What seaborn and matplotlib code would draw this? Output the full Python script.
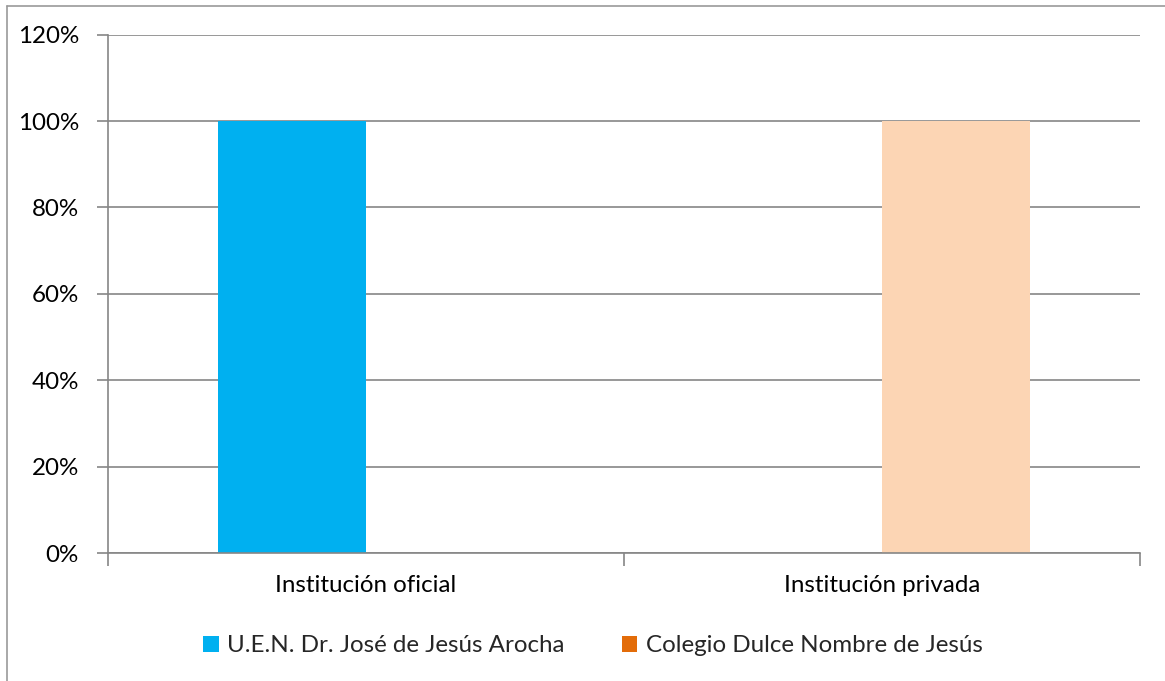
import matplotlib
matplotlib.use("Agg")
import matplotlib.pyplot as plt
import matplotlib.patches as mpatches
from matplotlib.lines import Line2D
from matplotlib.ticker import FixedLocator, FuncFormatter
import seaborn as sns
import pandas as pd

categories = ["Institución oficial", "Institución privada"]
series_names = ["U.E.N. Dr. José de Jesús Arocha", "Colegio Dulce Nombre de Jesús"]
series1_values = [100, 0]
series2_values = [0, 100]
y_ticks = [0, 20, 40, 60, 80, 100, 120]

bar_colors = ["#00B0F0", "#FCD5B4"]
legend_colors = ["#00B0F0", "#E36C09"]

rows = []
for cat, v in zip(categories, series1_values):
    rows.append({"cat": cat, "serie": series_names[0], "val": v})
for cat, v in zip(categories, series2_values):
    rows.append({"cat": cat, "serie": series_names[1], "val": v})
df = pd.DataFrame(rows)

sns.set_theme(style="white")
plt.rcParams["font.family"] = ["Lato", "DejaVu Sans"]

W, H = 1165, 681
FS = 17.4
fig = plt.figure(figsize=(W / 100, H / 100), dpi=100)
ax = fig.add_axes([108 / W, (H - 553) / H, 1032 / W, 518.4 / H])

sns.barplot(data=df, x="cat", y="val", hue="serie", order=categories,
            hue_order=series_names, palette=dict(zip(series_names, bar_colors)),
            width=0.574, dodge=True, saturation=1, ax=ax, legend=False,
            linewidth=0, errorbar=None)

ax.set_xlim(-0.5, 1.5)
ax.set_ylim(0, 120)
ax.set_xlabel("")
ax.set_ylabel("")
ax.set_axisbelow(True)

grid_c = "#868686"
ax.yaxis.set_major_locator(FixedLocator(y_ticks))
ax.yaxis.set_major_formatter(FuncFormatter(lambda v, p: f"{int(v)}%"))
ax.yaxis.grid(True, color=grid_c, linewidth=1.2)
ax.xaxis.grid(False)

for s in ["top", "right"]:
    ax.spines[s].set_visible(False)
for s in ["left", "bottom"]:
    ax.spines[s].set_color(grid_c)
    ax.spines[s].set_linewidth(1.2)

ax.tick_params(axis="y", which="major", length=8, width=1.2, color=grid_c,
               left=True, labelsize=FS, labelcolor="black", pad=13)
ax.tick_params(axis="x", which="major", length=0, labelsize=FS,
               labelcolor="black", pad=16)
ax.set_xticks([-0.5, 0.5, 1.5], minor=True)
ax.tick_params(axis="x", which="minor", length=9, width=1.2, color=grid_c,
               bottom=True)

handles = [mpatches.Patch(facecolor=c, edgecolor="none") for c in legend_colors]
fig.legend(handles, series_names, loc="center", bbox_to_anchor=(593 / W, 1 - 646 / H),
           ncol=2, frameon=False, fontsize=FS, handlelength=0.65, handleheight=0.65,
           handletextpad=0.35, columnspacing=2.35)

fig.add_artist(Line2D([6.5 / W, 1.0], [1 - 5.5 / H, 1 - 5.5 / H],
                      transform=fig.transFigure, color="#999999", linewidth=1.2))
fig.add_artist(Line2D([6.5 / W, 6.5 / W], [0, 1 - 5.5 / H],
                      transform=fig.transFigure, color="#999999", linewidth=1.2))

fig.savefig("out.png", dpi=100)
